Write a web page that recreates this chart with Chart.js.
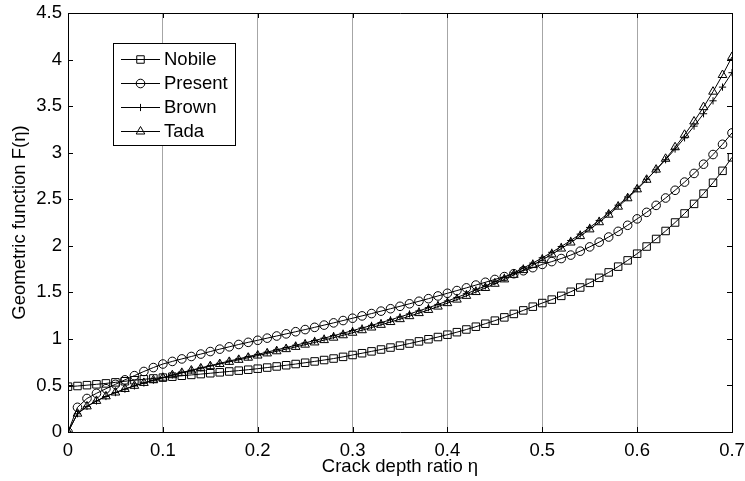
<!DOCTYPE html>
<html>
<head>
<meta charset="utf-8">
<script src="https://cdn.jsdelivr.net/npm/chart.js@4.4.1/dist/chart.umd.min.js"></script>
<style>
  html, body { margin: 0; padding: 0; background: #fff; }
</style>
</head>
<body>
<canvas id="chart" width="745" height="481"></canvas>
<script>
const eta = [0, 0.01, 0.02, 0.03, 0.04, 0.05, 0.06, 0.07, 0.08, 0.09,
  0.1, 0.11, 0.12, 0.13, 0.14, 0.15, 0.16, 0.17, 0.18, 0.19,
  0.2, 0.21, 0.22, 0.23, 0.24, 0.25, 0.26, 0.27, 0.28, 0.29,
  0.3, 0.31, 0.32, 0.33, 0.34, 0.35, 0.36, 0.37, 0.38, 0.39,
  0.4, 0.41, 0.42, 0.43, 0.44, 0.45, 0.46, 0.47, 0.48, 0.49,
  0.5, 0.51, 0.52, 0.53, 0.54, 0.55, 0.56, 0.57, 0.58, 0.59,
  0.6, 0.61, 0.62, 0.63, 0.64, 0.65, 0.66, 0.67, 0.68, 0.69, 0.7];

const nobile = [0.487, 0.494, 0.503, 0.512, 0.522, 0.533, 0.545, 0.556, 0.566, 0.575,
  0.584, 0.594, 0.604, 0.613, 0.622, 0.631, 0.641, 0.650, 0.659, 0.669,
  0.680, 0.692, 0.704, 0.717, 0.730, 0.744, 0.758, 0.773, 0.789, 0.807,
  0.827, 0.846, 0.866, 0.886, 0.907, 0.928, 0.950, 0.973, 0.996, 1.020,
  1.045, 1.072, 1.101, 1.131, 1.163, 1.196, 1.231, 1.268, 1.306, 1.346,
  1.385, 1.422, 1.462, 1.506, 1.552, 1.602, 1.656, 1.714, 1.776, 1.843,
  1.915, 1.992, 2.073, 2.159, 2.250, 2.347, 2.450, 2.560, 2.677, 2.805, 2.950];

const present = [0, 0.265, 0.360, 0.415, 0.465, 0.512, 0.560, 0.605, 0.650, 0.692,
  0.730, 0.758, 0.785, 0.811, 0.837, 0.864, 0.890, 0.915, 0.940, 0.963,
  0.985, 1.008, 1.031, 1.054, 1.077, 1.100, 1.124, 1.148, 1.172, 1.197,
  1.222, 1.247, 1.272, 1.298, 1.324, 1.350, 1.377, 1.404, 1.432, 1.461,
  1.490, 1.519, 1.548, 1.578, 1.608, 1.638, 1.669, 1.700, 1.732, 1.765,
  1.800, 1.830, 1.863, 1.900, 1.942, 1.988, 2.039, 2.094, 2.155, 2.220,
  2.289, 2.359, 2.434, 2.513, 2.596, 2.684, 2.777, 2.876, 2.980, 3.090, 3.212];

const brown = [0, 0.196, 0.275, 0.333, 0.381, 0.423, 0.460, 0.495, 0.526, 0.556,
  0.584, 0.612, 0.638, 0.664, 0.689, 0.713, 0.738, 0.762, 0.786, 0.810,
  0.834, 0.858, 0.883, 0.907, 0.932, 0.957, 0.983, 1.008, 1.035, 1.061,
  1.089, 1.117, 1.145, 1.175, 1.205, 1.236, 1.268, 1.301, 1.335, 1.370,
  1.407, 1.445, 1.485, 1.526, 1.569, 1.614, 1.661, 1.709, 1.761, 1.814,
  1.871, 1.930, 1.992, 2.057, 2.125, 2.197, 2.272, 2.352, 2.436, 2.524,
  2.616, 2.714, 2.816, 2.924, 3.039, 3.159, 3.285, 3.418, 3.557, 3.704, 3.859];

const tada = [0, 0.197, 0.275, 0.334, 0.383, 0.424, 0.462, 0.496, 0.527, 0.556,
  0.583, 0.610, 0.635, 0.660, 0.683, 0.707, 0.730, 0.753, 0.775, 0.798,
  0.821, 0.844, 0.867, 0.890, 0.914, 0.938, 0.962, 0.987, 1.013, 1.039,
  1.066, 1.093, 1.122, 1.151, 1.181, 1.212, 1.244, 1.277, 1.311, 1.347,
  1.384, 1.422, 1.462, 1.503, 1.547, 1.592, 1.639, 1.688, 1.739, 1.793,
  1.849, 1.908, 1.970, 2.035, 2.104, 2.176, 2.253, 2.334, 2.420, 2.510,
  2.606, 2.709, 2.818, 2.934, 3.058, 3.192, 3.335, 3.489, 3.655, 3.834, 4.028];

const seriesNames = ["Nobile", "Present", "Brown", "Tada"];

const FONT = { family: "'Liberation Sans', Arial, sans-serif", size: 18.5 };

const toPoints = (values) => eta.map((x, i) => ({ x, y: values[i] }));

const makeSet = (label, values, pointStyle, radius) => ({
  label,
  data: toPoints(values),
  borderColor: "#000",
  borderWidth: 1,
  backgroundColor: "rgba(0,0,0,0)",
  pointStyle,
  pointRadius: radius,
  pointBorderColor: "#000",
  pointBorderWidth: 1,
  pointBackgroundColor: "rgba(0,0,0,0)",
  tension: 0,
  fill: false,
});

// plain numbers like matlab: 0, 0.5, 1, 1.5 ...
const plainTick = (v) => String(Number(v.toFixed(2)));

// box round the plot and inward ticks, matlab style
const frame = {
  id: "frame",
  afterDraw(chart) {
    const { ctx, chartArea: a, scales } = chart;
    const x = scales.x, y = scales.y;
    ctx.save();
    ctx.strokeStyle = "#000";
    ctx.lineWidth = 1;
    ctx.beginPath();
    ctx.moveTo(a.left, a.top + 0.5);
    ctx.lineTo(a.right + 0.5, a.top + 0.5);
    ctx.lineTo(a.right + 0.5, a.bottom);
    x.ticks.forEach((t) => {
      const px = Math.round(x.getPixelForValue(t.value)) + 0.5;
      ctx.moveTo(px, a.bottom);
      ctx.lineTo(px, a.bottom - 5);
      ctx.moveTo(px, a.top);
      ctx.lineTo(px, a.top + 5);
    });
    y.ticks.forEach((t) => {
      const py = Math.round(y.getPixelForValue(t.value)) + 0.5;
      ctx.moveTo(a.left, py);
      ctx.lineTo(a.left + 5, py);
      ctx.moveTo(a.right, py);
      ctx.lineTo(a.right - 5, py);
    });
    ctx.stroke();
    ctx.restore();
  },
};

// legend drawn inside the plot: line sample with marker, then name
const boxLegend = {
  id: "boxLegend",
  afterDraw(chart) {
    const { ctx } = chart;
    const left = 113, top = 43, w = 122, h = 102;
    ctx.save();
    ctx.fillStyle = "#fff";
    ctx.fillRect(left, top, w, h);
    ctx.strokeStyle = "#000";
    ctx.lineWidth = 1;
    ctx.strokeRect(left + 0.5, top + 0.5, w, h);
    chart.data.datasets.forEach((ds, i) => {
      const ry = top + 16 + i * 24;
      ctx.strokeStyle = "#000";
      ctx.beginPath();
      ctx.moveTo(121, ry + 0.5);
      ctx.lineTo(160, ry + 0.5);
      ctx.stroke();
      ctx.fillStyle = "rgba(0,0,0,0)";
      Chart.helpers.drawPoint(ctx, {
        pointStyle: ds.pointStyle,
        radius: ds.pointRadius,
        rotation: 0,
        borderWidth: 1,
      }, 140.5, ry + 0.5);
      ctx.fillStyle = "#000";
      ctx.font = `${FONT.size}px ${FONT.family}`;
      ctx.textAlign = "left";
      ctx.textBaseline = "middle";
      ctx.fillText(ds.label, 164, ry + 1);
    });
    ctx.restore();
  },
};

new Chart("chart", {
  type: "line",
  data: {
    datasets: [
      makeSet(seriesNames[0], nobile, "rect", 5.3),
      makeSet(seriesNames[1], present, "circle", 4.3),
      makeSet(seriesNames[2], brown, "cross", 3.6),
      makeSet(seriesNames[3], tada, "triangle", 5),
    ],
  },
  options: {
    responsive: false,
    animation: false,
    layout: { padding: { top: 13, right: 13, left: 0, bottom: 0 } },
    plugins: {
      legend: { display: false },
      tooltip: { enabled: false },
    },
    scales: {
      x: {
        type: "linear",
        min: 0,
        max: 0.7,
        ticks: { stepSize: 0.1, color: "#000", font: FONT, padding: 8, maxRotation: 0, callback: plainTick },
        grid: { color: "#a6a6a6", lineWidth: 1, drawTicks: false },
        border: { color: "#000", width: 1 },
        title: {
          display: true,
          text: "Crack depth ratio η",
          color: "#000",
          font: FONT,
          padding: { top: 0, bottom: 3 },
        },
        afterFit(scale) {
          scale.height = 49;
          scale.paddingLeft = 0;
          scale.paddingRight = 0;
        },
      },
      y: {
        min: 0,
        max: 4.5,
        ticks: { stepSize: 0.5, color: "#000", font: FONT, padding: 6, callback: plainTick },
        grid: { display: false, drawTicks: false },
        border: { display: true, color: "#000", width: 1 },
        title: {
          display: true,
          text: "Geometric function F(η)",
          color: "#000",
          font: FONT,
          padding: { top: 9, bottom: 0 },
        },
        afterFit(scale) {
          scale.width = 68;
          scale.paddingTop = 0;
          scale.paddingBottom = 0;
        },
      },
    },
  },
  plugins: [frame, boxLegend],
});
</script>
</body>
</html>
